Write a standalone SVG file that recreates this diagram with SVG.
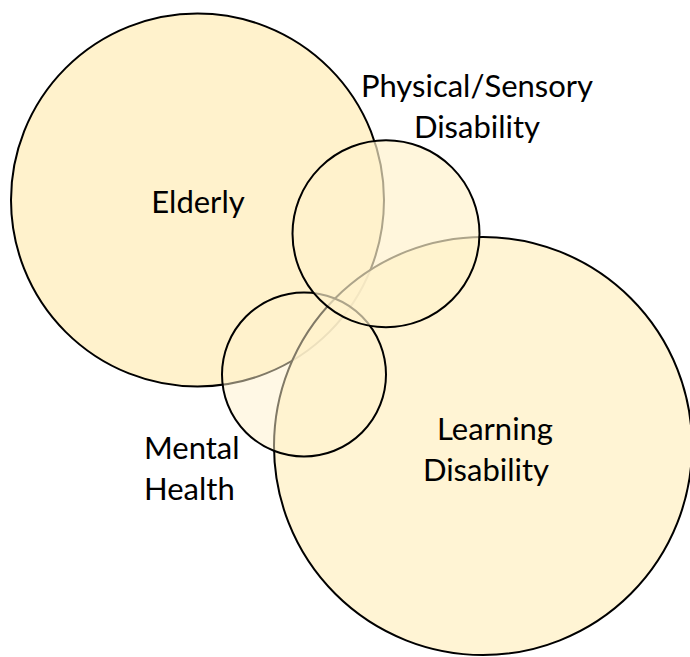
<svg xmlns="http://www.w3.org/2000/svg" width="690" height="657" viewBox="0 0 690 657">
  <style>
    .c { fill: #FFF2CC; stroke: #000; stroke-width: 2; }
    .t { font-family: Lato, "Open Sans", "Liberation Sans", sans-serif; font-size: 31px; fill: #000; }
  </style>
  <rect width="690" height="657" fill="#fff"/>
  <g id="elderly">
    <circle class="c" cx="197.5" cy="200" r="186.5" fill-opacity="1"/>
    <text class="t" x="198" y="213" text-anchor="middle">Elderly</text>
  </g>
  <g id="learning">
    <circle class="c" cx="483" cy="446" r="209" fill-opacity="0.85"/>
    <text class="t" x="495" y="440" text-anchor="middle">Learning</text>
    <text class="t" x="486" y="481" text-anchor="middle">Disability</text>
  </g>
  <g id="mental">
    <circle class="c" cx="304" cy="374.5" r="82" fill-opacity="0.5"/>
    <text class="t" x="144" y="459">Mental</text>
    <text class="t" x="144" y="500">Health</text>
  </g>
  <g id="physical">
    <circle class="c" cx="386" cy="233.7" r="93.5" fill-opacity="0.68"/>
    <text class="t" x="477" y="97" text-anchor="middle">Physical/Sensory</text>
    <text class="t" x="477" y="138" text-anchor="middle">Disability</text>
  </g>
  <g id="connectors"></g>
</svg>
